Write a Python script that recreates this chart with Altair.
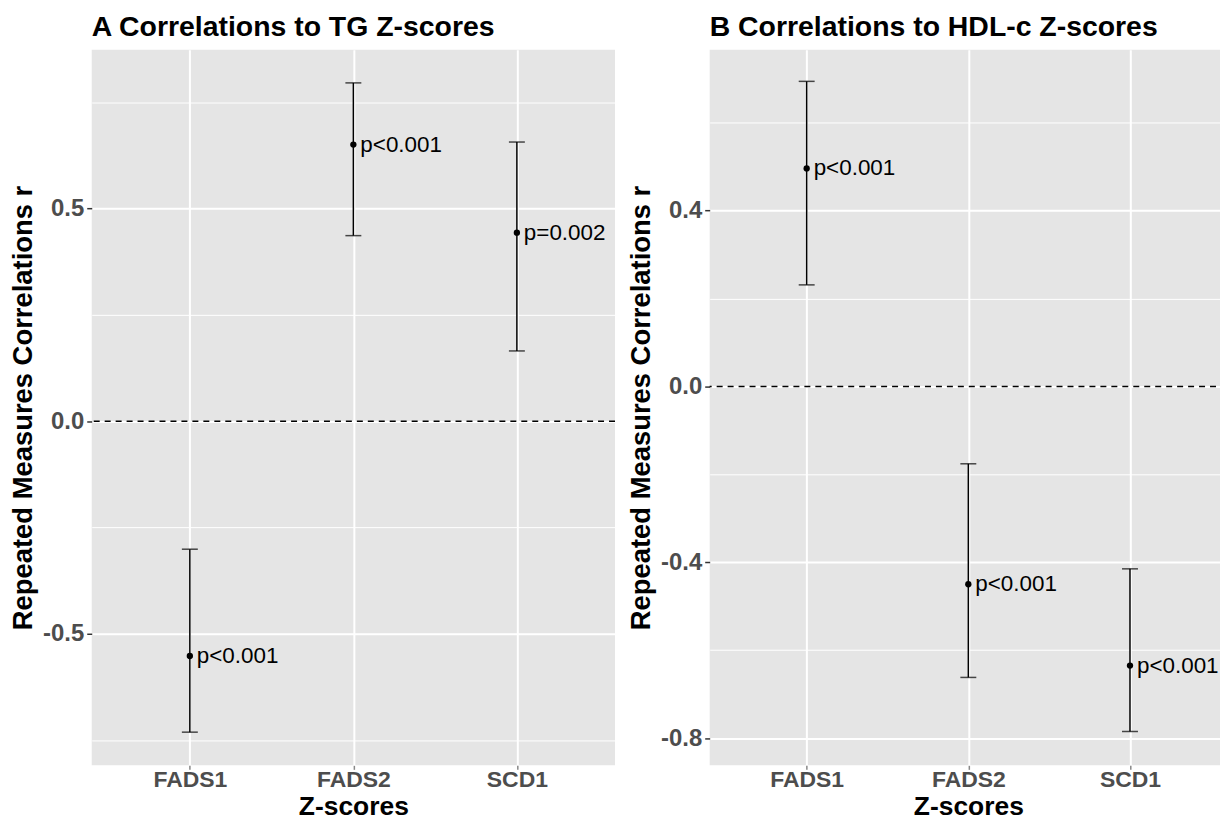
import altair as alt
import pandas as pd

genes = ["FADS1", "FADS2", "SCD1"]

tg_r = [-0.552, 0.650, 0.443]
tg_lo = [-0.731, 0.436, 0.165]
tg_hi = [-0.301, 0.795, 0.656]
tg_p = ["p<0.001", "p<0.001", "p=0.002"]

hdl_r = [0.496, -0.450, -0.635]
hdl_lo = [0.231, -0.662, -0.785]
hdl_hi = [0.694, -0.176, -0.415]
hdl_p = ["p<0.001", "p<0.001", "p<0.001"]

tg_major = [-0.5, 0.0, 0.5]
tg_minor = [-0.75, -0.25, 0.25, 0.75]
tg_domain = [-0.809, 0.873]

hdl_major = [-0.8, -0.4, 0.0, 0.4]
hdl_minor = [-0.6, -0.2, 0.2, 0.6]
hdl_domain = [-0.862, 0.766]

zero_line = [0.0]

FONT = "Liberation Sans"


def panel(title, r, lo, hi, p, major, minor, domain, W, H):
    df = pd.DataFrame({"gene": genes, "r": r, "lo": lo, "hi": hi, "p": p})
    zdf = pd.DataFrame({"z": zero_line})
    test = "indexof([" + ",".join(str(v) for v in major) + "], datum.value) >= 0"
    label_expr = (
        f"({test}) ? (datum.value < 0 ? '-' + format(-datum.value, '.1f') "
        f": format(datum.value, '.1f')) : ''"
    )
    yscale = alt.Scale(domain=domain, nice=False, zero=False)
    yaxis = alt.Axis(
        values=sorted(major + minor),
        title="Repeated Measures Correlations r",
        labelExpr=label_expr,
        labelFontSize=24,
        titleFontSize=27.5,
        grid=True,
        gridColor="white",
        gridWidth={"condition": {"test": test, "value": 2}, "value": 1},
        tickColor={"condition": {"test": test, "value": "#333333"},
                   "value": "rgba(0,0,0,0)"},
        tickSize=5,
        labelPadding=3,
        titlePadding=5,
    )
    xaxis = alt.Axis(
        title="Z-scores",
        labelAngle=0,
        labelFontSize=23,
        titleFontSize=26.5,
        grid=True,
        gridColor="white",
        gridWidth=2,
        tickSize=4,
        labelPadding=-1,
        titlePadding=2,
    )
    x = alt.X("gene:N", sort=genes, scale=alt.Scale(type="point", padding=0.6),
              axis=xaxis)

    base = alt.Chart(df)
    bars = base.mark_rule(color="black", strokeWidth=1.5).encode(
        x=x, y=alt.Y("lo:Q", scale=yscale, axis=yaxis), y2="hi:Q")
    zero = alt.Chart(zdf).mark_rule(color="black", strokeWidth=1.5,
                                    strokeDash=[6, 5]).encode(
        y=alt.Y("z:Q", scale=yscale, axis=yaxis))
    cap_lo = base.mark_tick(color="black", size=16, thickness=1.5,
                            orient="horizontal").encode(
        x=x, y=alt.Y("lo:Q", scale=yscale, axis=yaxis))
    cap_hi = base.mark_tick(color="black", size=16, thickness=1.5,
                            orient="horizontal").encode(
        x=x, y=alt.Y("hi:Q", scale=yscale, axis=yaxis))
    pts = base.mark_circle(color="black", size=40, opacity=1).encode(
        x=x, y=alt.Y("r:Q", scale=yscale, axis=yaxis))
    txt = base.mark_text(align="left", baseline="middle", dx=7, fontSize=22.5,
                         font=FONT, color="black").encode(
        x=x, y=alt.Y("r:Q", scale=yscale, axis=yaxis), text="p:N")
    return alt.layer(zero, bars, cap_lo, cap_hi, pts, txt).properties(
        width=W, height=H,
        title=alt.TitleParams(title, anchor="start", frame="group",
                              fontSize=28.5, font=FONT, fontWeight="bold",
                              color="black", offset=8),
    )


pa = panel("A Correlations to TG Z-scores", tg_r, tg_lo, tg_hi, tg_p,
           tg_major, tg_minor, tg_domain, 525, 718)
pb = panel("B Correlations to HDL-c Z-scores", hdl_r, hdl_lo, hdl_hi, hdl_p,
           hdl_major, hdl_minor, hdl_domain, 519, 718)

chart = alt.hconcat(pa, pb, spacing=11).resolve_scale(y="independent").configure_view(
    fill="#E5E5E5", strokeWidth=0
).configure_axis(
    domain=False,
    labelFont=FONT,
    labelFontWeight="bold",
    labelColor="#4D4D4D",
    titleFont=FONT,
    titleFontWeight="bold",
    titleColor="black",
    tickWidth=1.5,
).properties(
    padding={"left": 1, "top": 3.5, "right": -8, "bottom": 0},
    background="white",
)

chart.save("out.html", embed_options={"renderer": "svg", "actions": False})
